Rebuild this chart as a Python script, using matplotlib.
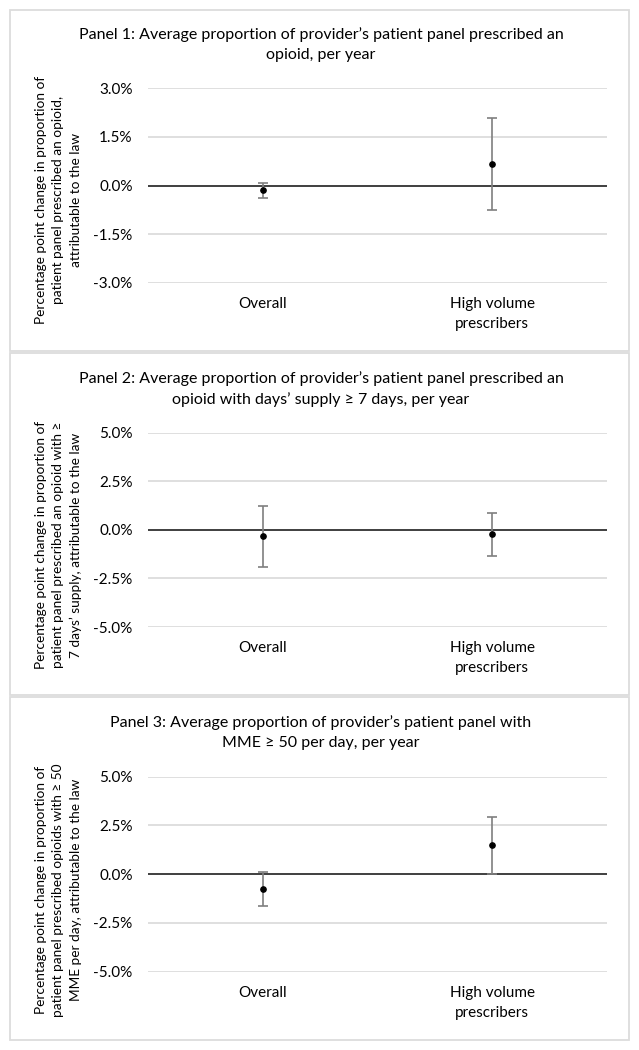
import matplotlib
matplotlib.use('Agg')
import matplotlib.pyplot as plt
from matplotlib.patches import Rectangle
from matplotlib.ticker import FuncFormatter

plt.rcParams['font.family'] = ['Lato', 'DejaVu Sans']

categories = ['Overall', 'High volume\nprescribers']

titles = [
    'Panel 1: Average proportion of provider\u2019s patient panel prescribed an\nopioid, per year',
    'Panel 2: Average proportion of provider\u2019s patient panel prescribed an\nopioid with days\u2019 supply \u2265 7 days, per year',
    'Panel 3: Average proportion of provider\u2019s patient panel with\nMME \u2265 50 per day, per year',
]
ylabels = [
    'Percentage point change in proportion of\npatient panel prescribed an opioid,\nattributable to the law',
    'Percentage point change in proportion of\npatient panel prescribed an opioid with \u2265\n7 days\u2019 supply, attributable to the law',
    'Percentage point change in proportion of\npatient panel prescribed opioids with \u2265 50\nMME per day, attributable to the law',
]

# point estimates and 95% CI (percentage points)
p1_est = [-0.15, 0.66]
p1_lo = [-0.38, -0.75]
p1_hi = [0.08, 2.07]

p2_est = [-0.34, -0.22]
p2_lo = [-1.90, -1.35]
p2_hi = [1.22, 0.89]

p3_est = [-0.75, 1.51]
p3_lo = [-1.64, 0.02]
p3_hi = [0.10, 2.95]

p1_ticks = [-3.0, -1.5, 0.0, 1.5, 3.0]
p2_ticks = [-5.0, -2.5, 0.0, 2.5, 5.0]
p3_ticks = [-5.0, -2.5, 0.0, 2.5, 5.0]

W, H = 639, 1050
fig = plt.figure(figsize=(W / 100, H / 100), dpi=100)


def fx(px):
    return px / W


def fy(py):
    return 1 - py / H


# layout in pixels: box top/bottom, title center, plot top/bottom, ylabel center
panels = [
    dict(box=(10, 351), title=44.5, top=88, bottom=283, ylab=200,
         est=p1_est, lo=p1_lo, hi=p1_hi, ticks=p1_ticks),
    dict(box=(353, 695), title=389, top=432.7, bottom=627, ylab=545,
         est=p2_est, lo=p2_lo, hi=p2_hi, ticks=p2_ticks),
    dict(box=(697, 1040), title=732.5, top=776.7, bottom=971.7, ylab=890,
         est=p3_est, lo=p3_lo, hi=p3_hi, ticks=p3_ticks),
]

left, right = 148, 607

for i, p in enumerate(panels):
    b0, b1 = p['box']
    fig.patches.append(Rectangle((fx(9.5), fy(b1)), fx(629) - fx(9.5), fy(b0) - fy(b1),
                                 transform=fig.transFigure, fill=False,
                                 edgecolor='#dcdcdc', lw=1.3))

    fig.text(fx(321), fy(p['title']), titles[i], ha='center', va='center',
             fontsize=11.5, color='black', linespacing=1.5)

    fig.text(fx(58.5), fy(p['ylab']), ylabels[i], ha='center', va='center',
             rotation=90, fontsize=9.8, multialignment='center', linespacing=1.55)

    ax = fig.add_axes([fx(left), fy(p['bottom']), fx(right) - fx(left),
                       fy(p['top']) - fy(p['bottom'])])
    x = [0, 1]
    est = p['est']
    yerr = [[e - l for e, l in zip(est, p['lo'])], [h - e for e, h in zip(est, p['hi'])]]
    ax.errorbar(x, est, yerr=yerr, fmt='o', color='black', ms=3.8,
                ecolor='#7f7f7f', elinewidth=1.2, capsize=3.3, capthick=1.2, zorder=4)
    ax.axhline(0, color='#404040', lw=1.4, zorder=3)

    ax.set_xlim(-0.5, 1.5)
    ax.set_ylim(p['ticks'][0], p['ticks'][-1])
    ax.set_yticks(p['ticks'])
    ax.yaxis.set_major_formatter(FuncFormatter(lambda v, pos: '{:.1f}%'.format(v)))
    ax.grid(True, axis='y', color='#d9d9d9', lw=1.2, zorder=0)
    ax.set_axisbelow(True)
    ax.set_xticks(x)
    ax.set_xticklabels(categories, linespacing=1.55)
    ax.tick_params(axis='both', length=0, labelsize=11)
    ax.tick_params(axis='y', pad=11)
    ax.tick_params(axis='x', pad=10)
    for s in ax.spines.values():
        s.set_visible(False)

plt.savefig('out.png', dpi=100)
